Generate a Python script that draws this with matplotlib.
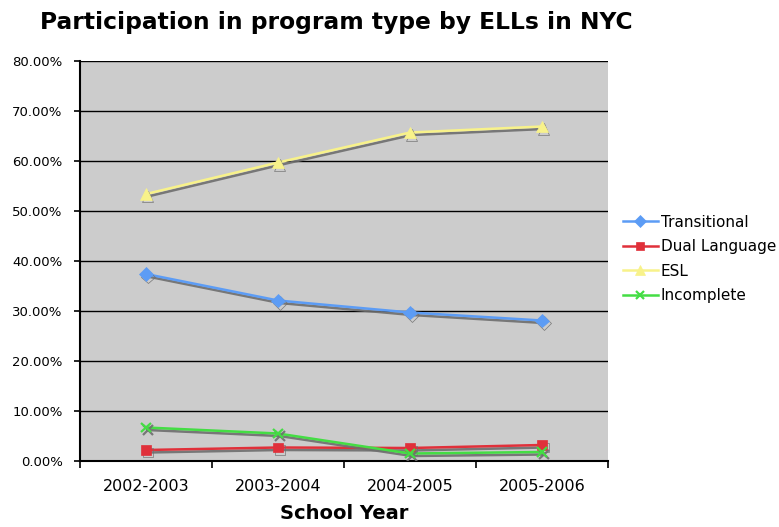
import matplotlib
matplotlib.use("Agg")
import matplotlib.pyplot as plt
import matplotlib.patheffects as pe
from matplotlib.lines import Line2D
from matplotlib.ticker import FuncFormatter, FixedLocator

years = ["2002-2003", "2003-2004", "2004-2005", "2005-2006"]
transitional = [37.4, 32.1, 29.7, 28.1]
dual_language = [2.2, 2.7, 2.6, 3.2]
esl = [53.4, 59.7, 65.7, 66.9]
incomplete = [6.7, 5.5, 1.5, 1.8]

series = [
    ("Transitional", transitional, "#5C9CF5", "D", 7),
    ("Dual Language", dual_language, "#E0303A", "s", 7),
    ("ESL", esl, "#F8F28A", "^", 8),
    ("Incomplete", incomplete, "#44DD44", "x", 7),
]

fig = plt.figure(figsize=(7.79, 5.27), dpi=100)
W, H = 779, 527
ax = fig.add_axes([80 / W, (H - 461) / H, 528 / W, 400 / H])
ax.set_facecolor("#CCCCCC")

x = list(range(len(years)))
shadow = [pe.SimpleLineShadow(offset=(1.2, -1.8), shadow_color="#6E6E6E", alpha=0.9), pe.Normal()]
handles = []
for name, vals, color, marker, ms in series:
    mew = 1.6 if marker == "x" else 0.5
    ax.plot(x, vals, color=color, lw=1.8, marker=marker, markersize=ms,
            markerfacecolor=color, markeredgecolor=color, markeredgewidth=mew,
            path_effects=shadow, zorder=3)
    handles.append(Line2D([], [], color=color, lw=1.8, marker=marker,
                          markersize=ms - 1, markerfacecolor=color, markeredgecolor=color,
                          markeredgewidth=mew, label=name))

ax.set_xlim(-0.5, len(years) - 0.5)
ax.set_ylim(0, 80)
ax.set_yticks(range(0, 81, 10))
ax.yaxis.set_major_formatter(FuncFormatter(lambda v, p: f"{v:.2f}%"))
ax.grid(axis="y", color="black", lw=1.0)
ax.set_axisbelow(True)

ax.set_xticks(x)
ax.set_xticklabels(years, fontsize=11.5)
ax.xaxis.set_minor_locator(FixedLocator([i - 0.5 for i in range(len(years) + 1)]))
ax.tick_params(axis="x", which="major", length=0, pad=13)
ax.tick_params(axis="x", which="minor", length=5, width=1.2, color="black")
ax.tick_params(axis="y", length=4.5, width=1.2, labelsize=9.5, pad=8)

for s in ("top", "right"):
    ax.spines[s].set_visible(False)
for s in ("left", "bottom"):
    ax.spines[s].set_linewidth(1.5)
    ax.spines[s].set_color("black")

ax.set_xlabel("School Year", fontsize=14, fontweight="bold", labelpad=7)
fig.text(40 / W, 1 - 22 / H, "Participation in program type by ELLs in NYC",
         fontsize=16.8, fontweight="bold", ha="left", va="center")

fig.legend(handles=handles, loc="center left", bbox_to_anchor=(612 / W, 1 - 259 / H),
           frameon=False, fontsize=11, handlelength=2.3, handletextpad=0.2,
           labelspacing=0.62, borderpad=0.2)

fig.savefig("out.png", dpi=100)
